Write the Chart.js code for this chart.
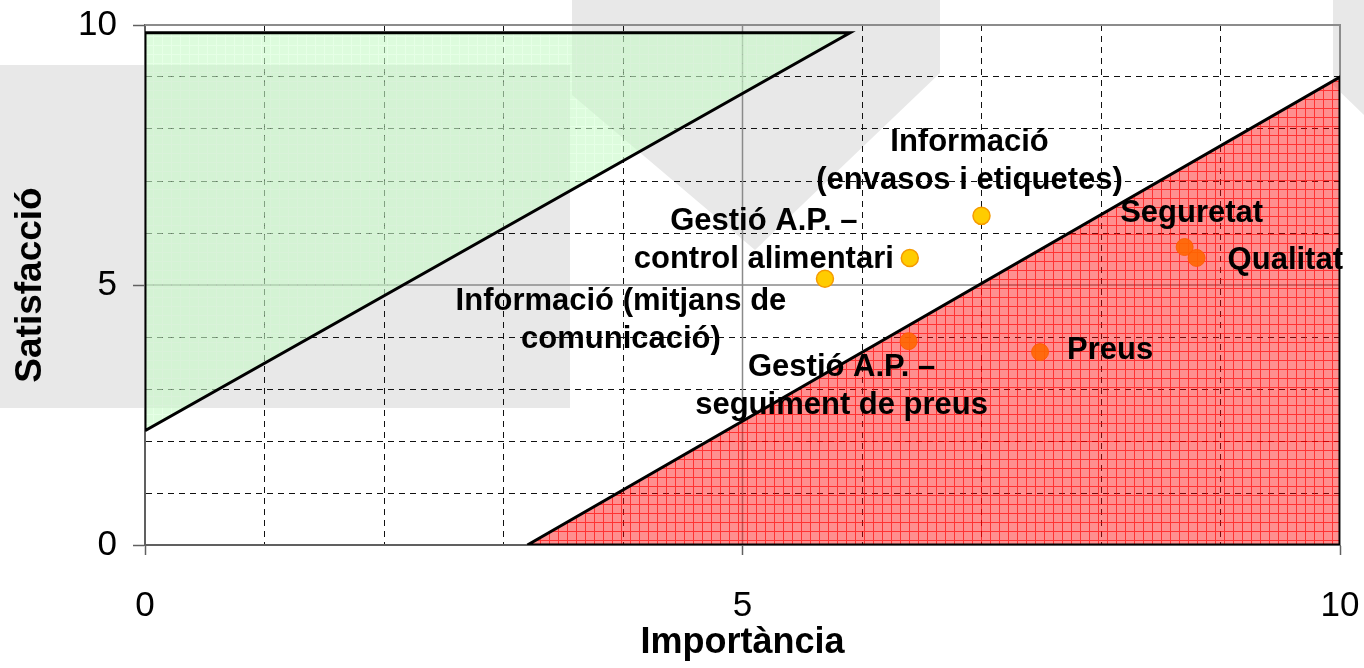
<!DOCTYPE html>
<html>
<head>
<meta charset="utf-8">
<script src="https://cdn.jsdelivr.net/npm/chart.js@4/dist/chart.umd.min.js"></script>
<style>
  body { margin: 0; background: #fff; }
  #wrap { position: relative; width: 1364px; height: 668px; overflow: hidden; }
  .mark { position: absolute; background: #e8e8e8; }
  #box { left: 0; top: 65px; width: 570px; height: 343px; }
  #shield { left: 0; top: 0; width: 1364px; height: 668px; clip-path: polygon(572px 0, 940px 0, 940px 73px, 755px 250px, 572px 95px); }
  #strip { left: 0; top: 0; width: 1364px; height: 668px; clip-path: polygon(1333px 0, 1364px 0, 1364px 115px, 1333px 85px); }
  canvas { position: absolute; left: 0; top: 0; }
</style>
</head>
<body>
<div id="wrap">
  <div class="mark" id="box"></div>
  <div class="mark" id="shield"></div>
  <div class="mark" id="strip"></div>
  <canvas id="QuadrantChart" width="1364" height="668"></canvas>
</div>
<script>
const categories = [
    'Informació\n(envasos i etiquetes)',
    'Gestió A.P. –\ncontrol alimentari',
    'Informació (mitjans de\ncomunicació)',
    'Gestió A.P. –\nseguiment de preus',
    'Preus',
    'Seguretat',
    'Qualitat'
];
const importancia = [7.0, 6.4, 5.69, 6.39, 7.49, 8.70, 8.80];
const satisfaccio = [6.33, 5.52, 5.12, 3.92, 3.71, 5.73, 5.52];
const group = ['ok', 'ok', 'ok', 'weak', 'weak', 'weak', 'weak'];

// zones (green: over-satisfied, red: needs action)
const greenZoneX = [0, 0, 5.9, 0];
const greenZoneY = [2.2, 9.85, 9.85, 2.2];
const redZoneX = [3.2, 10, 10, 3.2];
const redZoneY = [0, 0, 9.0, 0];

const tickLabels = [0, 5, 10];

// label placement around each point: [dx, dy, align]
const labelPos = [
    [-12, -73, 'center'],
    [-146, -37, 'center'],
    [-204, 23, 'center'],
    [-67, 26, 'center'],
    [27, -2, 'left'],
    [7, -34, 'center'],
    [31, 2, 'left']
];

const FONT = 'Arial, "Liberation Sans", sans-serif';

function makePattern(base, line, size) {
    const c = document.createElement('canvas');
    c.width = size;
    c.height = size;
    const g = c.getContext('2d');
    g.fillStyle = base;
    g.fillRect(0, 0, size, size);
    g.clearRect(0, 0, size, 1);
    g.clearRect(0, 1, 1, size - 1);
    g.fillStyle = line;
    g.fillRect(0, 0, size, 1);
    g.fillRect(0, 1, 1, size - 1);
    return g.createPattern(c, 'repeat');
}

function zip(xs, ys) {
    return xs.map((x, i) => ({ x: x, y: ys[i] }));
}

const pts = zip(importancia, satisfaccio);

const refLines = {
    id: 'refLines',
    beforeDatasetsDraw(chart) {
        const { ctx, chartArea: a, scales: { x, y } } = chart;
        ctx.save();
        ctx.strokeStyle = '#8a8a8a';
        ctx.lineWidth = 1.5;
        ctx.beginPath();
        ctx.moveTo(x.getPixelForValue(5), a.top);
        ctx.lineTo(x.getPixelForValue(5), a.bottom);
        ctx.moveTo(a.left, y.getPixelForValue(5));
        ctx.lineTo(a.right, y.getPixelForValue(5));
        ctx.stroke();
        ctx.strokeStyle = '#8c8c8c';
        ctx.lineWidth = 2;
        ctx.beginPath();
        ctx.moveTo(a.left, y.getPixelForValue(10));
        ctx.lineTo(x.getPixelForValue(10), y.getPixelForValue(10));
        ctx.lineTo(x.getPixelForValue(10), a.bottom);
        ctx.stroke();
        ctx.restore();
    }
};

const pointLabels = {
    id: 'pointLabels',
    afterDatasetsDraw(chart) {
        const { ctx, scales: { x, y } } = chart;
        ctx.save();
        ctx.font = 'bold 31px ' + FONT;
        ctx.fillStyle = '#000';
        ctx.textBaseline = 'middle';
        categories.forEach((txt, i) => {
            const px = x.getPixelForValue(importancia[i]) + labelPos[i][0];
            const py = y.getPixelForValue(satisfaccio[i]) + labelPos[i][1];
            ctx.textAlign = labelPos[i][2];
            txt.split('\n').forEach((ln, k) => ctx.fillText(ln, px, py + k * 38));
        });
        ctx.restore();
    }
};

function gridColor(ctx) {
    const v = ctx.tick ? ctx.tick.value : null;
    return (v === 0 || v === 5 || v === 10) ? 'rgba(0,0,0,0)' : '#111';
}
function tickColor(ctx) {
    const v = ctx.tick ? ctx.tick.value : null;
    return tickLabels.includes(v) ? '#606060' : 'rgba(0,0,0,0)';
}
function noOverflow(s) {
    s.paddingTop = 0;
    s.paddingBottom = 0;
    s.paddingLeft = 0;
    s.paddingRight = 0;
}

const ctx = document.getElementById('QuadrantChart');

new Chart(ctx, {
    type: 'scatter',
    data: {
        datasets: [
            {
                label: 'ok',
                data: pts.filter((p, i) => group[i] === 'ok'),
                pointRadius: 8.5,
                pointBackgroundColor: '#FFCC00',
                pointBorderColor: '#F59A00',
                pointBorderWidth: 1.5
            },
            {
                label: 'weak',
                data: pts.filter((p, i) => group[i] === 'weak'),
                pointRadius: 8.5,
                pointBackgroundColor: 'rgba(255,102,0,0.9)',
                pointBorderColor: 'rgba(255,90,0,0.9)',
                pointBorderWidth: 1
            },
            {
                label: 'green',
                data: zip(greenZoneX, greenZoneY),
                showLine: true,
                fill: 'shape',
                tension: 0,
                pointRadius: 0,
                borderColor: '#000',
                borderWidth: 3,
                backgroundColor: makePattern('rgba(200,250,200,0.62)', 'rgba(200,255,200,0.45)', 9)
            },
            {
                label: 'red',
                data: zip(redZoneX, redZoneY),
                showLine: true,
                fill: 'shape',
                tension: 0,
                pointRadius: 0,
                borderColor: '#000',
                borderWidth: 3,
                backgroundColor: makePattern('rgba(255,0,0,0.44)', 'rgba(255,0,0,0.8)', 9)
            }
        ]
    },
    options: {
        responsive: false,
        animation: false,
        devicePixelRatio: 1,
        layout: { padding: { top: 25, right: 24, left: 0, bottom: 0 } },
        plugins: {
            legend: { display: false },
            tooltip: { enabled: false }
        },
        scales: {
            x: {
                type: 'linear',
                min: 0,
                max: 10,
                ticks: {
                    stepSize: 1,
                    autoSkip: false,
                    maxRotation: 0,
                    padding: 30,
                    color: '#000',
                    font: { family: FONT, size: 35 },
                    callback: (v) => tickLabels.includes(v) ? String(v) : ''
                },
                grid: { color: gridColor, lineWidth: 1, tickColor: tickColor, tickLength: 10, tickWidth: 1.5 },
                border: { display: true, color: '#606060', width: 2, dash: [6, 5] },
                title: {
                    display: true,
                    text: 'Importància',
                    color: '#000',
                    font: { family: FONT, size: 36, weight: 'bold' },
                    padding: { top: 0, bottom: 3 }
                },
                afterFit(s) { s.height = 123; noOverflow(s); }
            },
            y: {
                type: 'linear',
                min: 0,
                max: 10,
                ticks: {
                    stepSize: 1,
                    autoSkip: false,
                    padding: 16,
                    color: '#000',
                    font: { family: FONT, size: 35 },
                    callback: (v) => tickLabels.includes(v) ? String(v) : ''
                },
                grid: { color: gridColor, lineWidth: 1, tickColor: tickColor, tickLength: 12, tickWidth: 1.5 },
                border: { display: true, color: '#606060', width: 2, dash: [6, 5] },
                title: {
                    display: true,
                    text: 'Satisfacció',
                    color: '#000',
                    font: { family: FONT, size: 37, weight: 'bold' },
                    padding: { top: 9, bottom: 0 }
                },
                afterFit(s) { s.width = 145; noOverflow(s); }
            }
        }
    },
    plugins: [refLines, pointLabels]
});
</script>
</body>
</html>
